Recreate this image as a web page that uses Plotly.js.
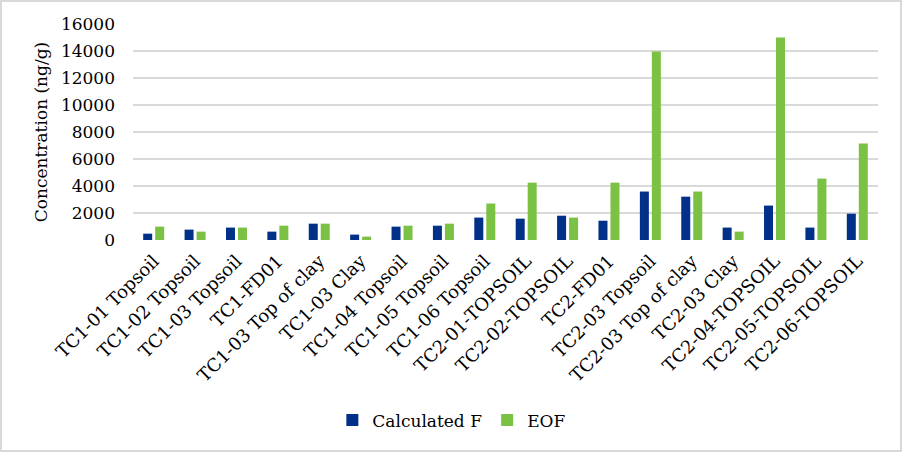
<!DOCTYPE html>
<html>
<head>
<meta charset="utf-8">
<script src="https://cdn.plot.ly/plotly-3.0.1.min.js"></script>
<style>
  html, body { margin: 0; padding: 0; background: #fff; }
  #wrap { position: relative; width: 902px; height: 452px; }
  #chart { width: 902px; height: 452px; }
  #frame { position: absolute; left: 0; top: 0; width: 902px; height: 452px;
           box-sizing: border-box; border: 2px solid #d9d9d9; pointer-events: none; }
</style>
</head>
<body>
<div id="wrap">
  <div id="chart"></div>
  <div id="frame"></div>
</div>
<script>
// sample names (x categories)
const samples = [
  "TC1-01 Topsoil", "TC1-02 Topsoil", "TC1-03 Topsoil", "TC1-FD01",
  "TC1-03 Top of clay", "TC1-03 Clay", "TC1-04 Topsoil", "TC1-05 Topsoil",
  "TC1-06 Topsoil", "TC2-01-TOPSOIL", "TC2-02-TOPSOIL", "TC2-FD01",
  "TC2-03 Topsoil", "TC2-03 Top of clay", "TC2-03 Clay", "TC2-04-TOPSOIL",
  "TC2-05-TOPSOIL", "TC2-06-TOPSOIL"
];

// ng/g
const calculatedF = [470, 770, 920, 620, 1210, 400, 990, 1060,
                     1660, 1580, 1800, 1430, 3590, 3210, 920, 2550, 920, 1950];
const eof = [990, 620, 920, 1060, 1210, 250, 1060, 1210,
             2700, 4250, 1660, 4250, 13970, 3590, 620, 15000, 4550, 7150];

const yTicks = [0, 2000, 4000, 6000, 8000, 10000, 12000, 14000, 16000];

const serif = "DejaVu Serif, serif";
const txt = "#000000";

const traces = [
  { type: "bar", name: "Calculated F", x: samples, y: calculatedF,
    marker: { color: "#003087" } },
  { type: "bar", name: "EOF", x: samples, y: eof,
    marker: { color: "#7bc143" } }
];

const layout = {
  width: 902, height: 452,
  paper_bgcolor: "#ffffff", plot_bgcolor: "#ffffff",
  margin: { l: 133, r: 24, t: 24, b: 212 },
  font: { family: serif, size: 17, color: txt },
  barmode: "group", bargap: 0.42, bargroupgap: 0.25,
  showlegend: true,
  legend: {
    orientation: "h", x: 0.428, xanchor: "center", y: -0.835, yanchor: "middle",
    font: { family: serif, size: 17, color: txt }, itemwidth: 30, traceorder: "normal"
  },
  xaxis: {
    type: "category", tickangle: -45, showgrid: false, zeroline: false,
    showline: false, ticks: "", ticklabelstandoff: 6, automargin: false,
    tickfont: { family: serif, size: 18, color: txt }
  },
  yaxis: {
    range: [0, 16000], tickvals: yTicks, ticktext: yTicks.map(String),
    showgrid: true, gridcolor: "#d9d9d9", gridwidth: 1.6,
    zeroline: false, showline: false, ticks: "", ticklabelstandoff: 17,
    automargin: false,
    tickfont: { family: serif, size: 17, color: txt },
    title: { text: "Concentration (ng/g)", standoff: 8,
             font: { family: serif, size: 17, color: txt } }
  }
};

Plotly.newPlot("chart", traces, layout, { displayModeBar: false, staticPlot: true });
</script>
</body>
</html>
